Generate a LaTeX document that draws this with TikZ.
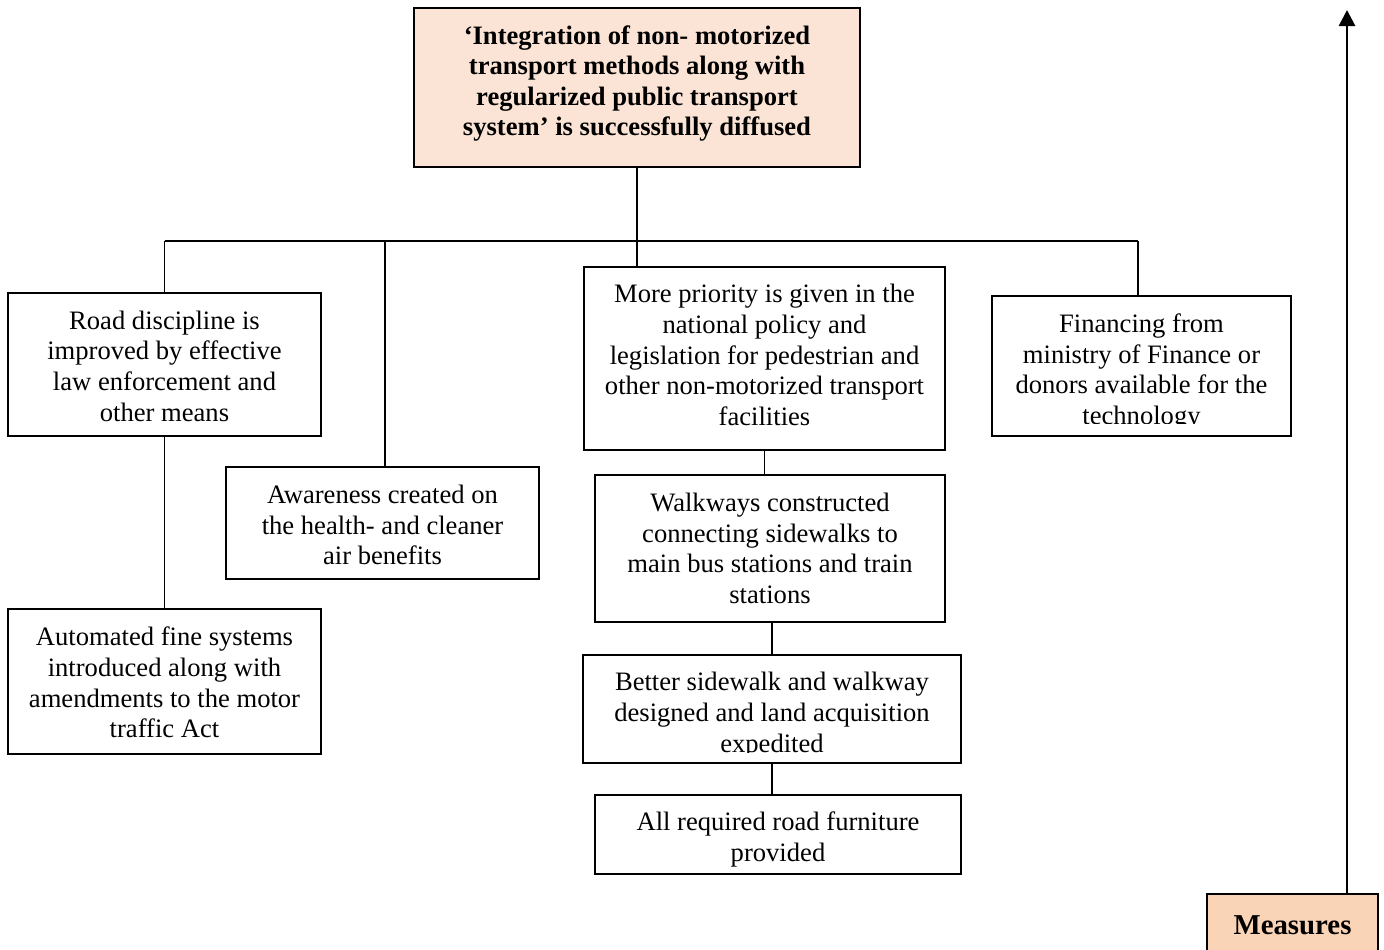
\documentclass[tikz,border=0pt]{standalone}
\usepackage{fontspec}
\setmainfont{Liberation Serif}
\usetikzlibrary{arrows.meta}
\definecolor{goalfill}{HTML}{FBE4D5}
\definecolor{measfill}{HTML}{F9D4B6}
\begin{document}
\begin{tikzpicture}[x=0.5pt,y=-0.5pt,
  box/.style={draw, line width=0.9pt, inner sep=0pt},
  txt/.style={align=center, inner sep=0pt, font=\fontsize{13.3}{15.3}\selectfont},
  boldtxt/.style={txt, font=\fontsize{13.3}{15.3}\selectfont\bfseries},
  link/.style={line width=0.9pt},
  uparrow/.style={line width=1.35pt, -{Triangle[length=8pt,width=8pt]}}]
\useasboundingbox (0,0) rectangle (1384,949);

% frames
\node[box, fill=goalfill, minimum width=223pt, minimum height=79.5pt] (top) at (637,87.5) {};
\node[box, minimum width=156.5pt, minimum height=71.5pt] (A) at (164.5,364.5) {};
\node[box, minimum width=156.5pt, minimum height=56pt] (B) at (382.5,523) {};
\node[box, minimum width=180.5pt, minimum height=91.5pt] (C) at (764.5,358.5) {};
\node[box, minimum width=149.5pt, minimum height=70pt] (D) at (1141.5,366) {};
\node[box, minimum width=156.5pt, minimum height=72.5pt] (E) at (164.5,681.5) {};
\node[box, minimum width=175pt, minimum height=73.5pt] (F) at (770,548.5) {};
\node[box, minimum width=189pt, minimum height=54pt] (G) at (772,709) {};
\node[box, minimum width=183pt, minimum height=39.5pt] (H) at (778,834.5) {};
\node[box, fill=measfill, minimum width=85.5pt, minimum height=31pt] (M) at (1292.5,925) {};

% texts
\node[boldtxt] (topT) at (637,83.5)
  {‘Integration of non- motorized\\transport methods along with\\regularized public transport\\system’ is successfully diffused};
\node[txt] (AT) at (164.5,366)
  {Road discipline is\\improved by effective\\law enforcement and\\other means};
\node[txt] (BT) at (382.5,525)
  {Awareness created on\\the health- and cleaner\\air benefits};
\node[txt] (CT) at (764.5,355)
  {More priority is given in the\\national policy and\\legislation for pedestrian and\\other non-motorized transport\\facilities};
\begin{scope}
  \clip (D.north west) rectangle ([yshift=6.5pt]D.south east);
  \node[txt] (DT) at (1141.5,372)
    {Financing from\\ministry of Finance or\\donors available for the\\technology};
\end{scope}
\node[txt] (ET) at (164.5,682.5)
  {Automated fine systems\\introduced along with\\amendments to the motor\\traffic Act};
\node[txt] (FT) at (770,548.5)
  {Walkways constructed\\connecting sidewalks to\\main bus stations and train\\stations};
\begin{scope}
  \clip (G.north west) rectangle ([yshift=5.5pt]G.south east);
  \node[txt] (GT) at (772,715)
    {Better sidewalk and walkway\\designed and land acquisition\\expedited};
\end{scope}
\node[txt] (HT) at (778,839.5)
  {All required road furniture\\provided};
\node[boldtxt, font=\fontsize{14.4}{16}\selectfont\bfseries] (MT) at (1292.5,925) {Measures};

% upward arrow from the measures label
\coordinate (tip) at (1347,10);
\draw[uparrow] (tip |- M.north) -- (tip);

% connectors
\coordinate (bus) at (0,241);
\coordinate (busR) at (1138,241);
\coordinate (bx) at (385,241);
\draw[link] (top.south) -- (top.south |- C.north);
\draw[link] (A.north |- bus) -- (busR);
\draw[link] (A.north) -- (A.north |- bus);
\draw[link] (bx) -- (bx |- B.north);
\draw[link] (busR) -- (busR |- D.north);
\draw[link] (A.south) -- (E.north);
\draw[link] (C.south) -- (C.south |- F.north);
\draw[link] (G.north |- F.south) -- (G.north);
\draw[link] (G.south) -- (G.south |- H.north);
\end{tikzpicture}
\end{document}
